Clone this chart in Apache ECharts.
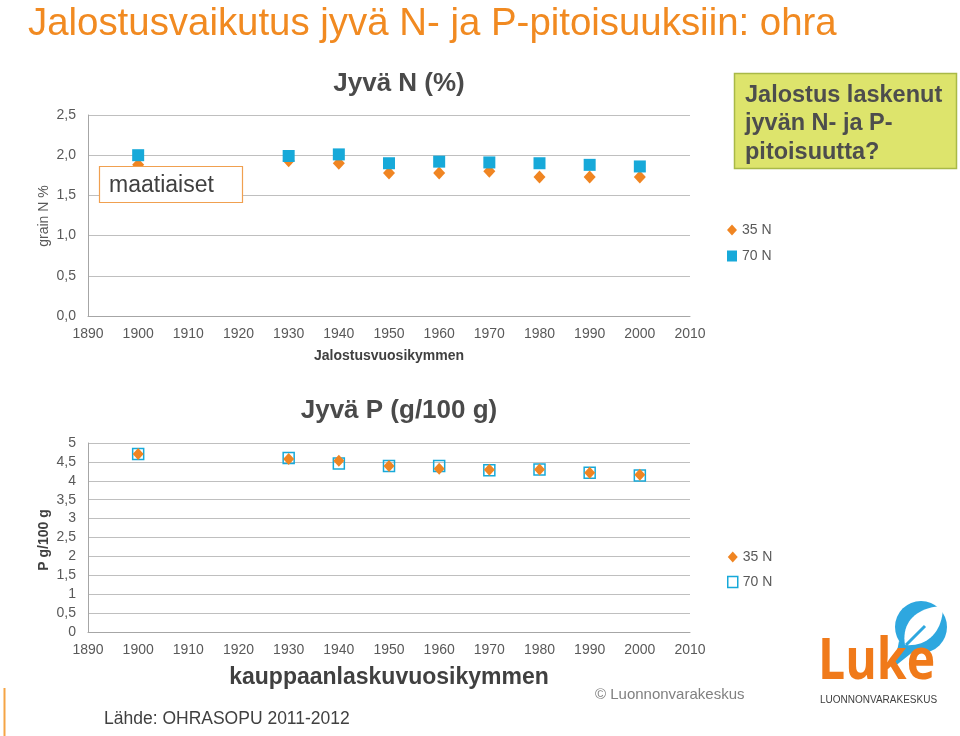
<!DOCTYPE html>
<html>
<head>
<meta charset="utf-8">
<script src="https://cdn.jsdelivr.net/npm/echarts@6/dist/echarts.min.js"></script>
<style>html,body{margin:0;padding:0;background:#fff}#c{width:960px;height:736px}</style>
</head>
<body>
<div id="c"></div>
<script>
// ---- data ----
const years = [1900, 1930, 1940, 1950, 1960, 1970, 1980, 1990, 2000];
const n35 = [1.88, 1.93, 1.90, 1.78, 1.78, 1.80, 1.73, 1.73, 1.73];
const n70 = [2.00, 1.99, 2.01, 1.90, 1.92, 1.91, 1.90, 1.88, 1.86];
const p35 = [4.71, 4.58, 4.53, 4.39, 4.32, 4.29, 4.30, 4.21, 4.16];
const p70 = [4.71, 4.60, 4.46, 4.39, 4.39, 4.28, 4.30, 4.21, 4.14];
const seriesNames = ['35 N', '70 N'];
const xMin = 1890, xMax = 2010, xStep = 10;
const nMax = 2.5, nStep = 0.5;
const pMax = 5, pStep = 0.5;

const ORANGE = '#F08522', CYAN = '#17A9D9', GRAY = '#595959', DARK = '#404040';
const FONT = 'Liberation Sans, Arial, sans-serif';

function pairs(xs, ys) { return xs.map((x, i) => [x, ys[i]]); }
const comma1 = v => v.toFixed(1).replace('.', ',');
const commaAuto = v => String(v).replace('.', ',');

// leaf outline for the logo (decorative shape)
function leafPoints() {
  const pts = [];
  const p0 = [905, 645], p3 = [943, 606];
  const c1 = [901, 622], c2 = [917, 607];
  const d1 = [943, 630], d2 = [929, 647];
  const bez = (a, b, c, d, t) => {
    const u = 1 - t;
    return [u*u*u*a[0] + 3*u*u*t*b[0] + 3*u*t*t*c[0] + t*t*t*d[0],
            u*u*u*a[1] + 3*u*u*t*b[1] + 3*u*t*t*c[1] + t*t*t*d[1]];
  };
  for (let i = 0; i <= 20; i++) pts.push(bez(p0, c1, c2, p3, i / 20));
  for (let i = 1; i < 20; i++) pts.push(bez(p3, d1, d2, p0, i / 20));
  return pts;
}

const chart = echarts.init(document.getElementById('c'), null, {renderer: 'canvas'});

const xAxisBase = {
  type: 'value', min: xMin, max: xMax, interval: xStep,
  axisLine: {show: true, onZero: false, lineStyle: {color: '#A6A6A6', width: 1}},
  axisTick: {show: false},
  splitLine: {show: false},
  axisLabel: {color: GRAY, fontSize: 14, fontFamily: FONT, margin: 11, formatter: v => String(v)},
  nameLocation: 'middle'
};
const yAxisBase = {
  type: 'value', min: 0,
  axisLine: {show: true, lineStyle: {color: '#A6A6A6', width: 1}},
  axisTick: {show: false},
  splitLine: {show: true, lineStyle: {color: '#BFBFBF', width: 1}},
  axisLabel: {color: GRAY, fontSize: 14, fontFamily: FONT, margin: 12}
};

const option = {
  animation: false,
  backgroundColor: '#fff',
  textStyle: {fontFamily: FONT},
  grid: [
    {left: 88, top: 115, width: 602, height: 201},
    {left: 88, top: 443, width: 602, height: 189}
  ],
  xAxis: [
    Object.assign({}, xAxisBase, {gridIndex: 0, name: 'Jalostusvuosikymmen', nameGap: 33,
      nameTextStyle: {color: DARK, fontSize: 14, fontWeight: 'bold', fontFamily: FONT}}),
    Object.assign({}, xAxisBase, {gridIndex: 1, name: 'kauppaanlaskuvuosikymmen', nameGap: 34,
      nameTextStyle: {color: DARK, fontSize: 23, fontWeight: 'bold', fontFamily: FONT}})
  ],
  yAxis: [
    Object.assign({}, yAxisBase, {gridIndex: 0, max: nMax, interval: nStep,
      axisLabel: Object.assign({}, yAxisBase.axisLabel, {formatter: comma1})}),
    Object.assign({}, yAxisBase, {gridIndex: 1, max: pMax, interval: pStep,
      axisLabel: Object.assign({}, yAxisBase.axisLabel, {formatter: commaAuto})})
  ],
  legend: [
    {
      orient: 'vertical', left: 722, top: 218, itemWidth: 10, itemHeight: 11, itemGap: 12,
      textStyle: {color: GRAY, fontSize: 14, fontFamily: FONT},
      data: [{name: seriesNames[0], icon: 'diamond'}, {name: seriesNames[1], icon: 'rect'}]
    },
    {
      orient: 'vertical', left: 722, top: 545, itemWidth: 10, itemHeight: 11, itemGap: 11,
      textStyle: {color: GRAY, fontSize: 14, fontFamily: FONT},
      formatter: name => name.replace(/^P /, ''),
      data: [{name: 'P ' + seriesNames[0], icon: 'diamond'},
             {name: 'P ' + seriesNames[1], icon: 'rect',
              itemStyle: {color: '#fff', borderColor: CYAN, borderWidth: 1.5}}]
    }
  ],
  series: [
    {name: seriesNames[0], type: 'scatter', xAxisIndex: 0, yAxisIndex: 0, z: 2,
     symbol: 'diamond', symbolSize: [12, 13], itemStyle: {color: ORANGE, opacity: 1},
     data: pairs(years, n35)},
    {name: seriesNames[1], type: 'scatter', xAxisIndex: 0, yAxisIndex: 0, z: 3,
     symbol: 'rect', symbolSize: 12, itemStyle: {color: CYAN, opacity: 1},
     data: pairs(years, n70)},
    {name: 'P ' + seriesNames[0], type: 'scatter', xAxisIndex: 1, yAxisIndex: 1, z: 3,
     symbol: 'diamond', symbolSize: [11, 12], itemStyle: {color: ORANGE, opacity: 1},
     data: pairs(years, p35)},
    {name: 'P ' + seriesNames[1], type: 'scatter', xAxisIndex: 1, yAxisIndex: 1, z: 2,
     symbol: 'rect', symbolSize: 11,
     itemStyle: {color: 'rgba(255,255,255,0)', borderColor: CYAN, borderWidth: 1.5, opacity: 1},
     data: pairs(years, p70)}
  ],
  graphic: [
    // main title
    {type: 'text', x: 28, y: 24, z: 10,
     style: {text: 'Jalostusvaikutus jyvä N- ja P-pitoisuuksiin: ohra', fill: '#F18A21',
             font: '38.4px ' + FONT, verticalAlign: 'middle'}},
    // chart titles
    {type: 'text', x: 399, y: 84, z: 10,
     style: {text: 'Jyvä N (%)', fill: '#4A4A4A', font: 'bold 26px ' + FONT, align: 'center', verticalAlign: 'middle'}},
    {type: 'text', x: 399, y: 411, z: 10,
     style: {text: 'Jyvä P (g/100 g)', fill: '#4A4A4A', font: 'bold 26px ' + FONT, align: 'center', verticalAlign: 'middle'}},
    // y axis names
    {type: 'text', x: 44, y: 216, rotation: Math.PI / 2, z: 10,
     style: {text: 'grain N %', fill: GRAY, font: '14px ' + FONT, align: 'center', verticalAlign: 'middle'}},
    {type: 'text', x: 44, y: 540, rotation: Math.PI / 2, z: 10,
     style: {text: 'P g/100 g', fill: DARK, font: 'bold 14px ' + FONT, align: 'center', verticalAlign: 'middle'}},
    // maatiaiset box
    {type: 'rect', z: 20, shape: {x: 99.5, y: 166.5, width: 143, height: 36},
     style: {fill: '#fff', stroke: '#F0A050', lineWidth: 1.2}},
    {type: 'text', z: 21, x: 109, y: 186,
     style: {text: 'maatiaiset', fill: DARK, font: '23px ' + FONT, verticalAlign: 'middle'}},
    // yellow box
    {type: 'rect', z: 20, shape: {x: 734.5, y: 73.5, width: 222, height: 95},
     style: {fill: '#DDE46C', stroke: '#A9B947', lineWidth: 1.5}},
    {type: 'text', z: 21, x: 745, y: 81,
     style: {text: 'Jalostus laskenut\njyvän N- ja P-\npitoisuutta?', fill: '#4D4D4D',
             font: 'bold 23.5px ' + FONT, lineHeight: 28.5}},
    // footer texts
    {type: 'text', z: 10, x: 595, y: 695,
     style: {text: '© Luonnonvarakeskus', fill: '#808080', font: '15px ' + FONT, verticalAlign: 'middle'}},
    {type: 'text', z: 10, x: 104, y: 719,
     style: {text: 'Lähde: OHRASOPU 2011-2012', fill: DARK, font: '17.5px ' + FONT, verticalAlign: 'middle'}},
    // left orange line
    {type: 'line', z: 10, shape: {x1: 4.5, y1: 688, x2: 4.5, y2: 736},
     style: {stroke: '#F5A445', lineWidth: 2}},
    // Luke logo
    {type: 'circle', z: 10, shape: {cx: 921, cy: 627, r: 26}, style: {fill: '#2EA7DF'}},
    {type: 'polygon', z: 10, shape: {points: [[899, 641], [894, 667], [914, 651]]}, style: {fill: '#2EA7DF'}},
    {type: 'polygon', z: 11, shape: {points: leafPoints()}, style: {fill: '#fff'}},
    {type: 'line', z: 12, shape: {x1: 906, y1: 645, x2: 925, y2: 626}, style: {stroke: '#2EA7DF', lineWidth: 3}},
    {type: 'text', z: 13, x: 818, y: 691, scaleX: 0.83,
     style: {text: 'Luke', fill: '#F07A1A', font: 'bold 58px "Open Sans", sans-serif', verticalAlign: 'bottom'}},
    {type: 'text', z: 13, x: 820, y: 700,
     style: {text: 'LUONNONVARAKESKUS', fill: DARK, font: '10px ' + FONT, verticalAlign: 'middle'}}
  ]
};
chart.setOption(option);
</script>
</body>
</html>
